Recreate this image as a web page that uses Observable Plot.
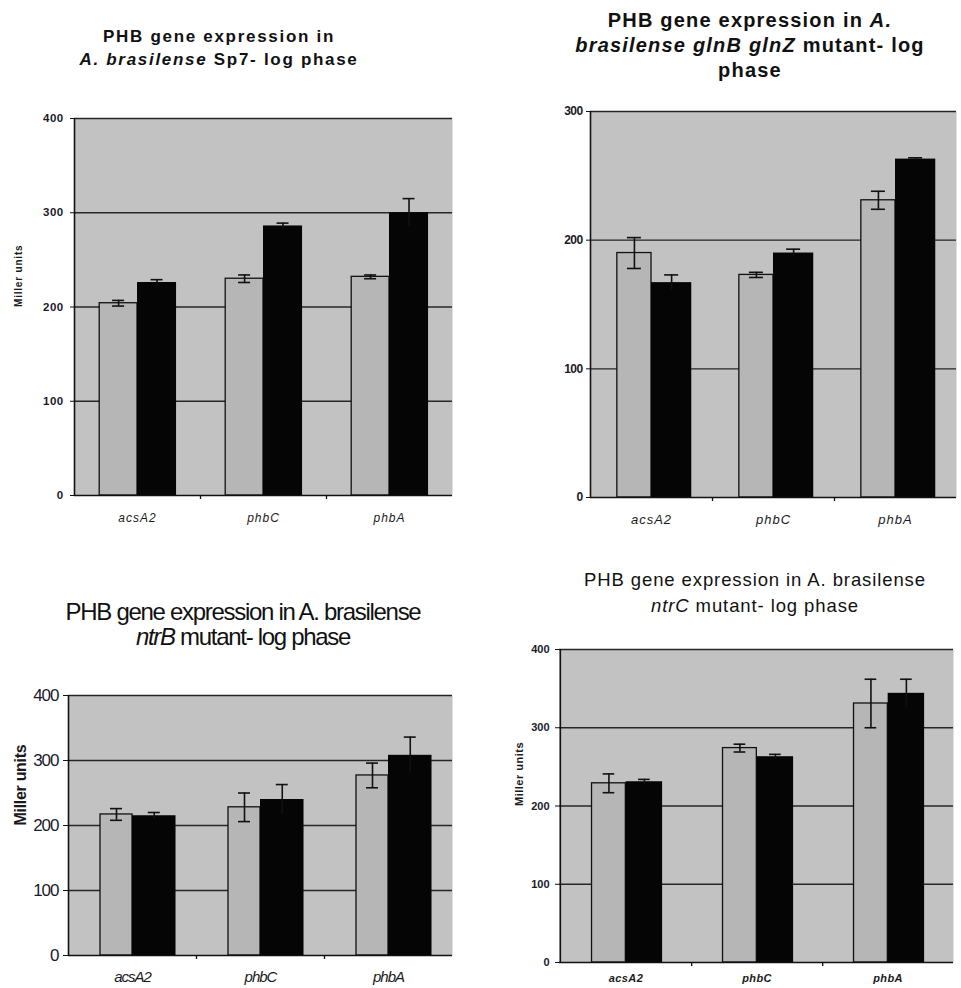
<!DOCTYPE html>
<html>
<head>
<meta charset="utf-8">
<script src="https://cdn.jsdelivr.net/npm/d3@7"></script>
<script src="https://cdn.jsdelivr.net/npm/@observablehq/plot@0.6"></script>
<style>
  html, body { margin: 0; padding: 0; background: #fff; }
  #root { position: relative; width: 961px; height: 988px; background: #fff; overflow: hidden;
          font-family: "Liberation Sans", Arial, sans-serif; color: #111; }
  .title { position: absolute; width: 480px; text-align: center; white-space: nowrap; }
  .panel { position: absolute; }
  .p1 [aria-label="x-axis tick label"] text { letter-spacing: 1px; }
  .p1 [aria-label="y-axis tick label"] text { letter-spacing: 0.4px; }
  .p1 [aria-label="text"] text { letter-spacing: 0.8px; }
  .p2 [aria-label="x-axis tick label"] text { letter-spacing: 1px; }
  .p2 [aria-label="y-axis tick label"] text { letter-spacing: -0.6px; }
  .p3 [aria-label="x-axis tick label"] text { letter-spacing: -1px; }
  .p3 [aria-label="y-axis tick label"] text { letter-spacing: -1px; }
  .p3 [aria-label="text"] text { letter-spacing: -0.3px; }
  .p4 [aria-label="x-axis tick label"] text { letter-spacing: 0.4px; }
  .p4 [aria-label="text"] text { letter-spacing: 0.5px; }
</style>
</head>
<body>
<div id="root">
  <div class="title" style="left:-21px;top:25px;font-size:17px;font-weight:bold;line-height:23px;letter-spacing:1.7px;">
    PHB gene expression in<br><i>A. brasilense</i> Sp7- log phase
  </div>
  <div class="title" style="left:510px;top:8px;font-size:20px;font-weight:bold;line-height:25px;letter-spacing:1.2px;">
    PHB gene expression in <i>A.</i><br><i>brasilense glnB glnZ</i> mutant- log<br>phase
  </div>
  <div class="title" style="left:3px;top:599px;font-size:24px;line-height:25px;letter-spacing:-1.3px;">
    PHB gene expression in A. brasilense<br><i>ntrB</i> mutant- log phase
  </div>
  <div class="title" style="left:515px;top:567px;font-size:18.5px;line-height:26px;letter-spacing:0.9px;">
    PHB gene expression in A. brasilense<br><i>ntrC</i> mutant- log phase
  </div>
</div>
<script>
// ---- data ----
const genes = ["acsA2", "phbC", "phbA"];

const sp7Gray      = [204, 230, 232];
const sp7GrayErr   = [3, 4, 2];
const sp7Black     = [226, 286, 300];
const sp7BlackErr  = [3, 3, 15];

const glnGray      = [190, 173, 231];
const glnGrayErr   = [12, 2, 7];
const glnBlack     = [167, 190, 263];
const glnBlackErr  = [6, 3, 1];

const ntrBGray     = [217, 228, 277];
const ntrBGrayErr  = [9, 22, 19];
const ntrBBlack    = [215, 240, 308];
const ntrBBlackErr = [5, 23, 28];

const ntrCGray     = [229, 274, 331];
const ntrCGrayErr  = [12, 5, 31];
const ntrCBlack    = [231, 263, 344];
const ntrCBlackErr = [3, 3, 18];

const yTicks400 = [0, 100, 200, 300, 400];
const yTicks300 = [0, 100, 200, 300];
const yLabel = "Miller units";

// ---- drawing ----
function panel(o) {
  const rows = genes.map((g, i) => ({gene: g, g: o.gray[i], ge: o.grayErr[i], b: o.black[i], be: o.blackErr[i]}));
  const bw = (o.width - o.ml - o.mr) / genes.length;
  const cap = o.cap;
  const ink = "#111";
  const gc = o.gl + (0.5 - o.gl) / 2;      // gray bar centre, fraction of band
  const bc = 0.5 + (0.5 - o.br) / 2;       // black bar centre, fraction of band
  const marks = [
    Plot.frame({fill: "#c2c2c2", stroke: "none"}),
    Plot.ruleY(o.yTicks.slice(1), {y: d => d, stroke: "#262626", strokeWidth: 1.3}),
    Plot.barY(rows, {x: "gene", y: "g", fill: "#b6b6b6", stroke: ink, strokeWidth: 1.3,
                     insetLeft: o.gl * bw, insetRight: 0.5 * bw}),
    Plot.barY(rows, {x: "gene", y: "b", fill: "#050505", insetLeft: 0.5 * bw, insetRight: o.br * bw}),
    // gray error bars
    Plot.ruleX(rows, {x: "gene", y1: d => d.g - d.ge, y2: d => d.g + d.ge, dx: (gc - 0.5) * bw, stroke: ink, strokeWidth: 1.6}),
    Plot.tickY(rows, {x: "gene", y: d => d.g + d.ge, stroke: ink, strokeWidth: 1.6,
                      insetLeft: gc * bw - cap, insetRight: (1 - gc) * bw - cap}),
    Plot.tickY(rows, {x: "gene", y: d => d.g - d.ge, stroke: ink, strokeWidth: 1.6,
                      insetLeft: gc * bw - cap, insetRight: (1 - gc) * bw - cap}),
    // black error bars
    Plot.ruleX(rows, {x: "gene", y1: d => d.b - d.be, y2: d => d.b + d.be, dx: (bc - 0.5) * bw, stroke: ink, strokeWidth: 1.6}),
    Plot.tickY(rows, {x: "gene", y: d => d.b + d.be, stroke: ink, strokeWidth: 1.6,
                      insetLeft: bc * bw - cap, insetRight: (1 - bc) * bw - cap}),
    // axis lines
    Plot.ruleY([0], {y: d => d, stroke: ink, strokeWidth: 1.6}),
    Plot.ruleX([genes[0]], {x: d => d, dx: -bw / 2, stroke: ink, strokeWidth: 1.6}),
    Plot.axisY({ticks: o.yTicks, tickSize: o.yts, tickPadding: o.ytp, fontSize: o.yfs, fontWeight: o.yfw,
                label: null, tickFormat: d => String(d), stroke: ink, fill: "#1a1a2a"}),
    Plot.axisX({tickSize: 0, tickPadding: o.xtp, fontSize: o.xfs, fontStyle: "italic", fontWeight: o.xfw, label: null, fill: "#1a1a1a"}),
    Plot.axisX(genes.slice(0, -1), {tickSize: 4, dx: bw / 2, tickFormat: () => "", label: null, stroke: ink, strokeWidth: 1.3})
  ];
  if (o.ylab) {
    marks.push(Plot.text([yLabel], {frameAnchor: "left", rotate: -90, dx: o.yldx, fontSize: o.ylfs, fontWeight: "bold", fill: "#1a1a1a"}));
  }
  const svg = Plot.plot({
    width: o.width, height: o.height,
    marginLeft: o.ml, marginRight: o.mr, marginTop: o.mt, marginBottom: o.mb,
    className: o.cls,
    style: {fontFamily: "'Liberation Sans', Arial, sans-serif", background: "transparent", overflow: "visible"},
    x: {type: "band", domain: genes, padding: 0, axis: null},
    y: {domain: [0, o.yTicks[o.yTicks.length - 1]], axis: null},
    marks
  });
  const wrap = document.createElement("div");
  wrap.className = "panel " + o.cls;
  wrap.style.left = o.left + "px";
  wrap.style.top = o.top + "px";
  wrap.appendChild(svg);
  document.getElementById("root").appendChild(wrap);
}

panel({cls: "p1", left: 0, top: 100, width: 480, height: 440, ml: 74, mr: 28, mt: 18, mb: 45,
       gray: sp7Gray, grayErr: sp7GrayErr, black: sp7Black, blackErr: sp7BlackErr,
       yTicks: yTicks400, yts: 4, ytp: 7, yfs: 11.5, yfw: "bold",
       xtp: 18, xfs: 12, xfw: "normal", gl: 0.2, br: 0.19, cap: 6,
       ylab: true, yldx: -56, ylfs: 10});

panel({cls: "p2", left: 480, top: 95, width: 481, height: 440, ml: 110, mr: 5, mt: 16, mb: 38,
       gray: glnGray, grayErr: glnGrayErr, black: glnBlack, blackErr: glnBlackErr,
       yTicks: yTicks300, yts: 4, ytp: 4, yfs: 12, yfw: "bold",
       xtp: 17, xfs: 13, xfw: "normal", gl: 0.22, br: 0.17, cap: 7,
       ylab: false});

panel({cls: "p3", left: 0, top: 680, width: 480, height: 308, ml: 68, mr: 28, mt: 15, mb: 33,
       gray: ntrBGray, grayErr: ntrBGrayErr, black: ntrBBlack, blackErr: ntrBBlackErr,
       yTicks: yTicks400, yts: 5, ytp: 5, yfs: 17, yfw: "normal",
       xtp: 16, xfs: 15, xfw: "normal", gl: 0.25, br: 0.16, cap: 6,
       ylab: true, yldx: -48, ylfs: 16});

panel({cls: "p4", left: 480, top: 635, width: 481, height: 353, ml: 79, mr: 8, mt: 14, mb: 26,
       gray: ntrCGray, grayErr: ntrCGrayErr, black: ntrCBlack, blackErr: ntrCBlackErr,
       yTicks: yTicks400, yts: 4, ytp: 6, yfs: 11, yfw: "bold",
       xtp: 12, xfs: 11, xfw: "bold", gl: 0.24, br: 0.22, cap: 6,
       ylab: true, yldx: -40, ylfs: 11});
</script>
</body>
</html>
